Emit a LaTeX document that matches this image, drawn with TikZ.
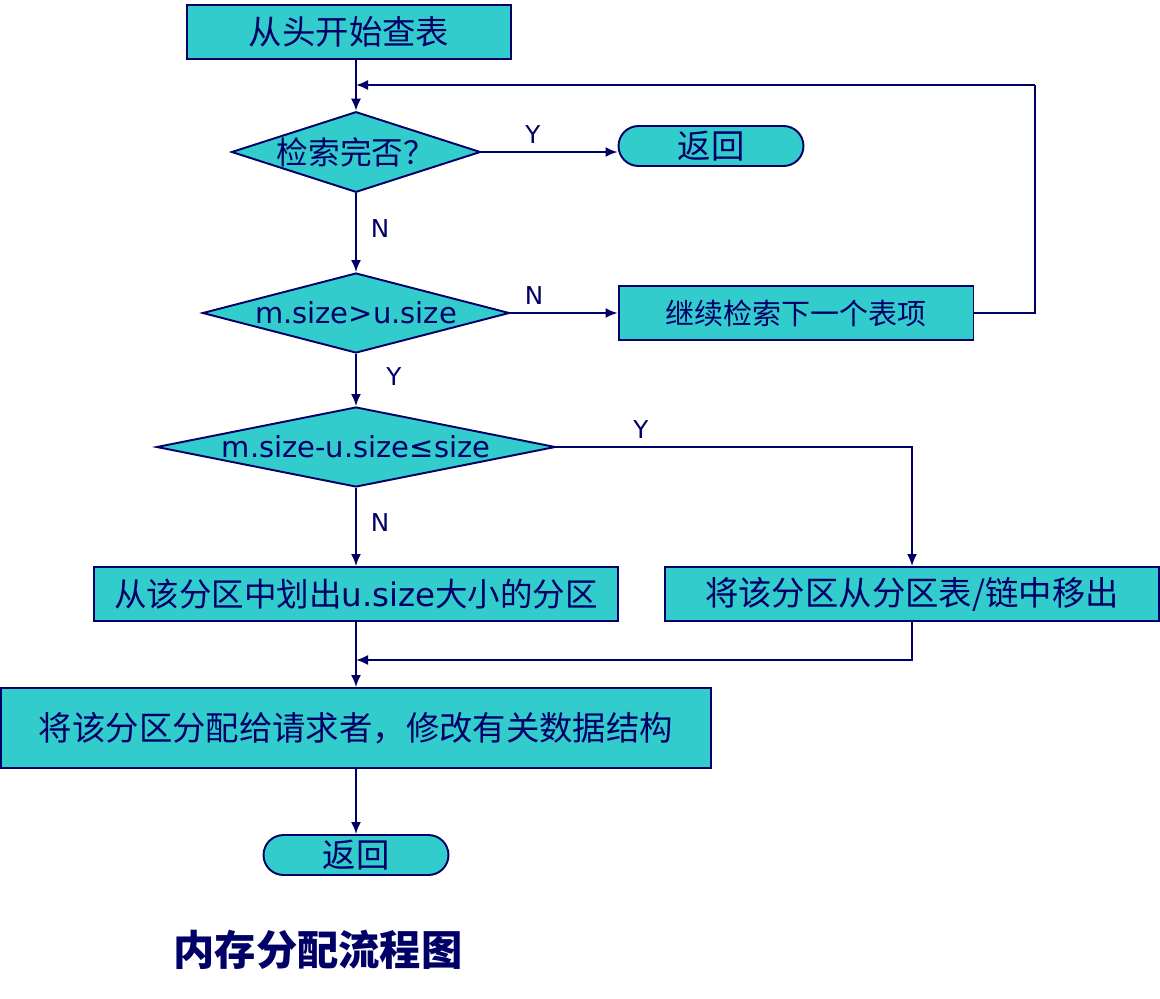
\documentclass[tikz,border=0pt]{standalone}
\usepackage{fontspec}
\setmainfont{DejaVu Sans}
\newfontfamily\cjk{Noto Sans CJK SC}
\usetikzlibrary{shapes.geometric, arrows.meta, positioning}
\definecolor{boxfill}{HTML}{33CCCC}
\definecolor{navy}{HTML}{000066}
\tikzset{
  procbox/.style={draw=navy, fill=boxfill, line width=1.1pt, rectangle, inner sep=0pt, text=navy, font=\fontsize{19}{22}\selectfont},
  decision/.style={draw=navy, fill=boxfill, line width=1.1pt, diamond, inner sep=0pt, text=navy, font=\fontsize{16.5}{19}\selectfont},
  terminal/.style={draw=navy, fill=boxfill, line width=1.1pt, rectangle, rounded corners=0.4cm, minimum width=3.7cm, minimum height=0.8cm, inner sep=0pt, text=navy, font=\fontsize{19}{22}\selectfont\cjk},
  flow/.style={draw=navy, line width=1.1pt, -{Latex[length=0.24cm, width=0.2cm]}},
  wire/.style={draw=navy, line width=1.1pt},
  yn/.style={text=navy, inner sep=0pt, font=\fontsize{14}{16}\selectfont}
}

\begin{document}
\begin{tikzpicture}[x=0.02cm, y=-0.02cm]
\useasboundingbox (0,0) rectangle (1160,998);

\node[procbox, minimum width=6.48cm, minimum height=1.08cm] (start) at (349,32) {\cjk 从头开始查表};
\node[decision, aspect=3.09, minimum width=4.94cm, minimum height=1.6cm, font=\fontsize{18}{21}\selectfont\cjk] (done) at (356,152) {检索完否？};
\node[terminal] (ret1) at (711,146) {返回};
\node[decision, aspect=3.84, minimum width=6.14cm, minimum height=1.6cm] (bigger) at (356,313) {m.size>u.size};
\node[procbox, minimum width=7.1cm, minimum height=1.08cm, font=\fontsize{16.5}{19}\selectfont] (next) at (796,313) {\cjk 继续检索下一个表项};
\node[decision, aspect=4.99, minimum width=7.98cm, minimum height=1.6cm] (rest) at (356,447) {m.size-u.size≤size};
\node[procbox, minimum width=10.5cm, minimum height=1.08cm, font=\fontsize{18.5}{22}\selectfont] (split) at (356,594) {{\cjk 从该分区中划出}u.size{\cjk 大小的分区}};
\node[procbox, minimum width=9.88cm, minimum height=1.08cm] (remove) at (912,594) {\cjk 将该分区从分区表/链中移出};
\node[procbox, minimum width=14.2cm, minimum height=1.6cm] (alloc) at (356,728) {\cjk 将该分区分配给请求者，修改有关数据结构};
\node[terminal] (ret2) at (356,855) {返回};
\node[text=navy, font=\fontsize{23.5}{27}\selectfont\cjk\bfseries] (title) at (318,950) {内存分配流程图};

\coordinate (loopr) at (1035,85);
\coordinate (loopl) at (356,85);
\coordinate (join) at (356,660);

\draw[flow] (start.south -| done) -- (done);
\draw[flow] (done.east) -- (ret1.west |- done.east);
\draw[flow] (done) -- (bigger);
\draw[flow] (bigger.east) -- (next.west);
\draw[wire] (next.east) -| (loopr);
\draw[flow] (loopr) -- (loopl);
\draw[flow] (bigger) -- (rest);
\draw[flow] (rest.east) -| (remove.north);
\draw[flow] (rest) -- (split);
\draw[flow] (split) -- (alloc);
\draw[flow] (remove.south) |- (join);
\draw[flow] (alloc) -- (ret2);

\node[yn] (y1) at (533,135) {Y};
\node[yn] (n1) at (380,229) {N};
\node[yn] (n2) at (534,296) {N};
\node[yn] (y2) at (394,377) {Y};
\node[yn] (y3) at (641,430) {Y};
\node[yn] (n3) at (380,523) {N};
\end{tikzpicture}
\end{document}
